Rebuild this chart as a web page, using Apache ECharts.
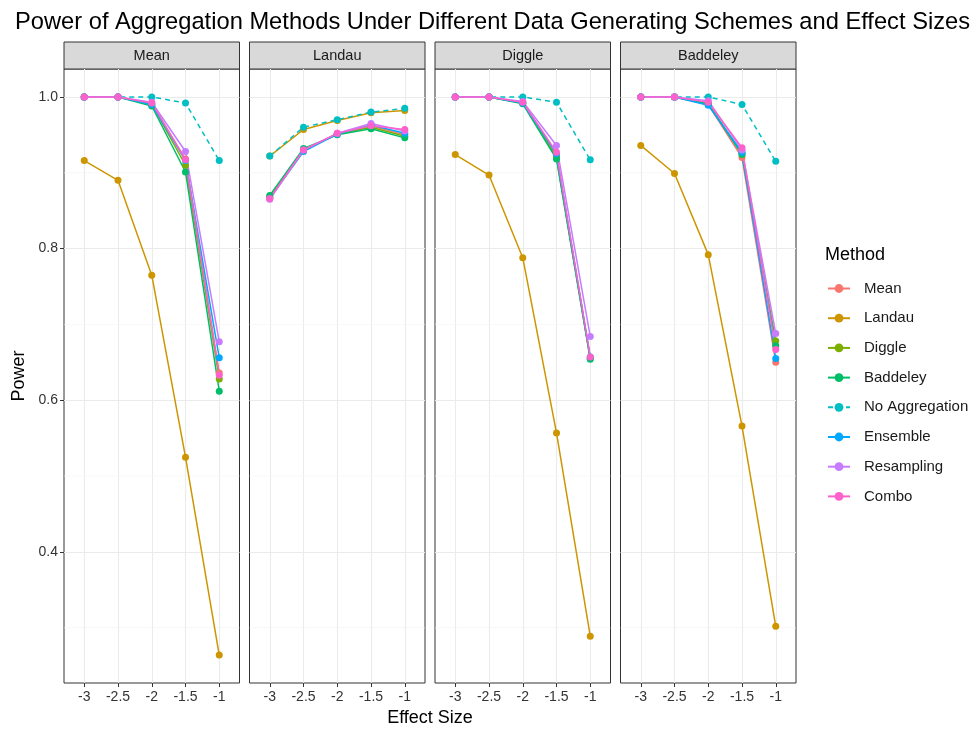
<!DOCTYPE html>
<html>
<head>
<meta charset="utf-8">
<script src="https://cdn.jsdelivr.net/npm/echarts@6/dist/echarts.min.js"></script>
<style>
html, body { margin: 0; padding: 0; background: #fff; }
#chart { width: 976px; height: 731px; }
</style>
</head>
<body>
<div id="chart"></div>
<script>
// data
var effectSizes = [-3, -2.5, -2, -1.5, -1];
var methods = ['Mean', 'Landau', 'Diggle', 'Baddeley', 'No Aggregation', 'Ensemble', 'Resampling', 'Combo'];
var colors = ['#F8766D', '#CD9600', '#7CAE00', '#00BE67', '#00BFC4', '#00A9FF', '#C77CFF', '#FF61CC'];
var facets = ['Mean', 'Landau', 'Diggle', 'Baddeley'];
var yTicks = [0.4, 0.6, 0.8, 1.0];
var yMinor = [0.3, 0.5, 0.7, 0.9];

// one row per method, same order as methods
var powerMean = [
    [1, 1, 0.991, 0.918, 0.636],
    [0.916, 0.890, 0.765, 0.525, 0.264],
    [1, 1, 0.990, 0.910, 0.628],
    [1, 1, 0.988, 0.901, 0.612],
    [1, 1, 1.000, 0.992, 0.916],
    [1, 1, 0.990, 0.916, 0.656],
    [1, 1, 0.993, 0.928, 0.677],
    [1, 1, 0.992, 0.917, 0.633]
];
var powerLandau = [
    [0.868, 0.930, 0.951, 0.962, 0.950],
    [0.922, 0.957, 0.969, 0.979, 0.982],
    [0.868, 0.930, 0.951, 0.960, 0.948],
    [0.870, 0.932, 0.950, 0.958, 0.946],
    [0.922, 0.960, 0.970, 0.980, 0.985],
    [0.866, 0.928, 0.951, 0.963, 0.952],
    [0.865, 0.930, 0.952, 0.965, 0.955],
    [0.866, 0.930, 0.952, 0.962, 0.957]
];
var powerDiggle = [
    [1, 1, 0.992, 0.922, 0.656],
    [0.924, 0.897, 0.788, 0.557, 0.289],
    [1, 1, 0.992, 0.920, 0.655],
    [1, 1, 0.991, 0.918, 0.654],
    [1, 1, 1.000, 0.993, 0.917],
    [1, 1, 0.992, 0.925, 0.657],
    [1, 1, 0.994, 0.936, 0.684],
    [1, 1, 0.993, 0.927, 0.657]
];
var powerBaddeley = [
    [1, 1, 0.990, 0.920, 0.650],
    [0.936, 0.899, 0.792, 0.566, 0.302],
    [1, 1, 0.991, 0.925, 0.678],
    [1, 1, 0.991, 0.924, 0.672],
    [1, 1, 1.000, 0.990, 0.915],
    [1, 1, 0.989, 0.927, 0.655],
    [1, 1, 0.995, 0.930, 0.688],
    [1, 1, 0.993, 0.933, 0.667]
];
var facetData = [powerMean, powerLandau, powerDiggle, powerBaddeley];

var FONT = 'Liberation Sans, Arial, sans-serif';
var panelLeft = [64, 249.5, 435, 620.5];
var panelW = 175.5, panelTop = 69, panelH = 614, stripH = 27;
var yMin = 0.2272, yMax = 1.0368;

var grids = [], xAxes = [], yAxes = [], series = [], graphics = [];

facets.forEach(function(name, f) {
    grids.push({
        left: panelLeft[f], top: panelTop, width: panelW, height: panelH,
        show: true, borderColor: '#333', borderWidth: 1, backgroundColor: '#fff', z: 0
    });
    xAxes.push({
        type: 'value', gridIndex: f, min: -3.3, max: -0.7,
        axisLine: { show: false },
        axisTick: { show: true, length: 4, lineStyle: { color: '#333' }, customValues: effectSizes },
        axisLabel: { color: '#333', fontSize: 14, fontFamily: FONT, margin: 7,
            customValues: effectSizes, formatter: function(v) { return String(v); } },
        splitLine: { show: true, lineStyle: { color: '#ebebeb', width: 1.1 } }
    });
    yAxes.push({
        type: 'value', gridIndex: f, min: yMin, max: yMax,
        axisLine: { show: false },
        axisTick: { show: f === 0, length: 4, lineStyle: { color: '#333' }, customValues: yTicks },
        axisLabel: { show: f === 0, color: '#333', fontSize: 14, fontFamily: FONT, margin: 6,
            customValues: yTicks, formatter: function(v) { return v.toFixed(1); } },
        splitLine: { show: true, lineStyle: { color: '#ebebeb', width: 1.1 } }
    });

    // minor horizontal grid lines
    yMinor.forEach(function(v) {
        series.push({
            name: '_minor', type: 'line', xAxisIndex: f, yAxisIndex: f, silent: true,
            data: [[-3.3, v], [-0.7, v]], symbol: 'none', z: 1,
            lineStyle: { color: '#f2f2f2', width: 0.6 }, animation: false
        });
    });

    methods.forEach(function(m, i) {
        series.push({
            name: m, type: 'line', xAxisIndex: f, yAxisIndex: f,
            data: effectSizes.map(function(x, k) { return [x, facetData[f][i][k]]; }),
            symbol: 'circle', symbolSize: 7,
            itemStyle: { color: colors[i] },
            lineStyle: { color: colors[i], width: 1.5, type: m === 'No Aggregation' ? [5, 4] : 'solid' },
            z: 3, animation: false
        });
    });

    // facet strip
    graphics.push({
        type: 'rect', shape: { x: panelLeft[f], y: panelTop - stripH, width: panelW, height: stripH },
        style: { fill: '#d9d9d9', stroke: '#333', lineWidth: 1 }
    });
    graphics.push({
        type: 'text', x: panelLeft[f] + panelW / 2, y: panelTop - stripH / 2,
        style: { text: name, fill: '#1a1a1a', font: '14.5px ' + FONT, align: 'center', verticalAlign: 'middle' }
    });
});

graphics.push({
    type: 'text', x: 19, y: 376, rotation: Math.PI / 2,
    style: { text: 'Power', fill: '#000', font: '18px ' + FONT, align: 'center', verticalAlign: 'middle' }
});
graphics.push({
    type: 'text', x: 430, y: 718,
    style: { text: 'Effect Size', fill: '#000', font: '18px ' + FONT, align: 'center', verticalAlign: 'middle' }
});
graphics.push({
    type: 'text', x: 825, y: 255,
    style: { text: 'Method', fill: '#000', font: '18px ' + FONT, align: 'left', verticalAlign: 'middle' }
});

var chart = echarts.init(document.getElementById('chart'));
chart.setOption({
    backgroundColor: '#fff',
    animation: false,
    title: {
        text: 'Power of Aggregation Methods Under Different Data Generating Schemes and Effect Sizes',
        left: 10, top: 5,
        textStyle: { fontSize: 23.7, fontWeight: 'normal', color: '#000', fontFamily: FONT }
    },
    legend: {
        data: methods, orient: 'vertical', left: 822, top: 276,
        itemWidth: 22, itemHeight: 11, itemGap: 14.7,
        textStyle: { fontSize: 15, color: '#1a1a1a', fontFamily: FONT, padding: [0, 0, 0, 9] },
        selectedMode: false
    },
    grid: grids,
    xAxis: xAxes,
    yAxis: yAxes,
    series: series,
    graphic: graphics
});
</script>
</body>
</html>
